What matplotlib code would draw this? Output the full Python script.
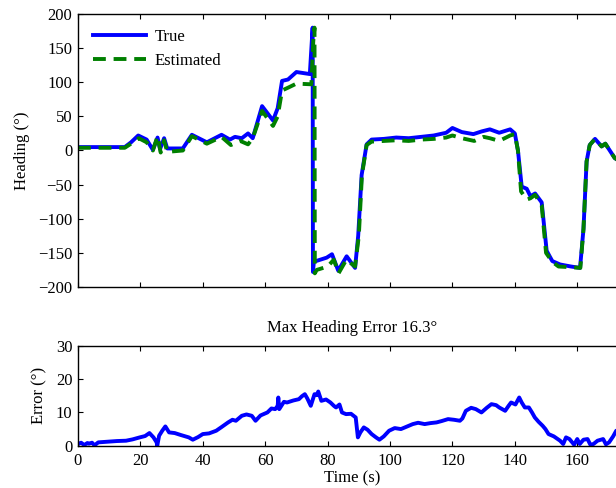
import matplotlib
matplotlib.use('Agg')
import matplotlib.pyplot as plt

plt.rcParams.update({
    'font.family': ['Liberation Serif', 'DejaVu Serif'],
    'font.size': 12,
    'xtick.direction': 'in', 'ytick.direction': 'in',
    'xtick.top': True, 'ytick.right': True,
    'xtick.major.size': 3.6, 'ytick.major.size': 3.6,
    'xtick.major.pad': 5.5, 'ytick.major.pad': 4,
    'axes.linewidth': 1.0,
})

# ── 데이터
t_true = [0, 15, 17, 19.3, 22, 24, 25.5, 26.3, 27.6, 28.6, 33.6, 36.5, 41.3, 46,
          48.7, 50.3, 52.5, 54.5, 56, 59, 62.5, 64, 65.4, 67.3, 70, 74.3, 74.8,
          75.2, 75.3, 75.6, 79.7, 81.4, 83.4, 86.1, 88.8, 89.8, 90.9, 92.5, 94.1,
          98, 102, 106, 110, 114, 118, 120, 123, 126.7, 129.4, 132, 135, 138.5,
          140, 141, 142.2, 143.8, 145, 146.5, 148.6, 150.2, 152, 154.5, 158, 160.9,
          162, 163, 164, 165.7, 167.8, 169, 172, 175]
h_true = [5, 5, 12, 22, 16, 1, 19, 2, 18, 3, 3, 23, 12, 23,
          16, 20, 18, 25, 18, 65, 44, 62, 102, 104, 115, 112, 150,
          180, -178, -163, -157, -152, -176, -155, -172, -125, -36, 9, 16,
          17, 19, 18, 20, 22, 26, 33, 27, 24, 28, 31, 26, 31,
          25, 0, -53, -56, -67, -63, -76, -147, -162, -167, -170, -172,
          -115, -16, 8, 17, 6, 10, -11, -20]

t_est = [0, 15, 17, 19.5, 22, 24, 25.5, 26.5, 27.6, 28.6, 33.6, 36.5, 41.3, 46,
         49, 52, 54.5, 56, 59, 62.5, 64, 65.4, 67.3, 70, 74.8, 75.4, 75.8,
         75.9, 76.5, 80, 82, 83.5, 86, 88.8, 90, 91, 92.5, 94.1, 98, 102, 106,
         110, 114, 118, 120, 123, 127, 130, 132, 135, 138.5, 140, 141, 142,
         143.8, 145, 146.5, 148.6, 150, 152, 154, 158, 161, 162, 163, 164,
         165.7, 167.8, 169, 172, 175]
h_est = [4, 4, 10, 18, 12, 0, 21, -3, 15, -2, 0, 21, 10, 20,
         8, 14, 9, 18, 58, 36, 50, 88, 92, 98, 97, 160, 180,
         -180, -175, -170, -160, -180, -160, -170, -125, -36, 8, 13, 14, 15, 14,
         16, 17, 19, 22, 18, 14, 20, 18, 14, 22, 24, 0, -60,
         -72, -70, -65, -80, -150, -163, -170, -171, -172, -115, -16, 8,
         17, 6, 10, -11, -20]

t_err = [0, 1, 2, 3, 3.5, 4.5, 5.3, 6.5, 8, 10, 12.5, 15.4, 17.5, 19.8, 21.5,
         22.9, 24.2, 25.2, 25.4, 25.7, 26, 27, 28, 29.2, 31, 33, 35.5, 36.8, 38.5,
         40, 42, 44.3, 46, 48.1, 49.5, 50.6, 52.5, 54, 55.7, 56.9, 58.5, 60.7,
         62, 63.2, 64.0, 64.2, 64.5, 66, 67, 69, 70.8, 71.8, 72.7, 73.5, 74.6,
         75.8, 76.5, 77, 78, 79.5, 80.9, 82, 82.7, 83.8, 84.6, 85.9, 87.5, 89,
         89.7, 90.5, 91.6, 92.8, 94.1, 95.5, 96.6, 98, 99.7, 101.5, 103.5, 105.5,
         107.3, 109, 111.1, 113, 114.9, 116.5, 118.6, 120.5, 122.4, 123.2, 124.3,
         126, 127.5, 129.3, 131, 132.5, 134, 135, 136.9, 138, 138.8, 140.2, 141.4,
         142.2, 143.2, 144.5, 145.5, 146.4, 147.6, 148.9, 149.8, 150.8, 152.5,
         154.5, 155.5, 156.4, 157.5, 159, 160, 160.8, 162, 163.3, 164.2, 165.2,
         166.5, 168.3, 169.2, 170.2, 171.5, 172.5, 175]
e_err = [0.5, 0.9, 0.2, 0.8, 0.6, 0.9, 0.1, 1.0, 1.1, 1.2, 1.4, 1.5, 1.9, 2.5, 2.9,
         3.8, 2.5, 1.0, 0.0, 1.5, 3.0, 4.5, 5.8, 4.0, 3.8, 3.2, 2.5, 1.8, 2.6,
         3.5, 3.7, 4.5, 5.6, 7.0, 7.8, 7.5, 9.0, 9.4, 9.0, 7.5, 9.1, 10.0,
         11.2, 11.0, 12.0, 14.5, 11.0, 13.2, 13.0, 13.6, 14.0, 14.9, 15.5, 14.2, 12.0,
         15.5, 15.2, 16.3, 13.5, 13.9, 13.0, 12.0, 11.5, 12.4, 10.0, 9.5, 9.6, 8.5,
         2.5, 4.0, 5.5, 4.8, 3.5, 2.5, 1.8, 2.8, 4.5, 5.3, 5.0, 5.8,
         6.5, 6.9, 6.5, 6.8, 7.0, 7.4, 8.0, 7.8, 7.5, 8.2, 10.5,
         11.4, 11.0, 10.0, 11.4, 12.5, 12.2, 11.5, 10.5, 12.0, 13.0, 12.4, 14.5,
         13.0, 11.5, 11.5, 10.0, 8.5, 7.2, 6.0, 5.0, 3.5, 2.8,
         1.5, 0.5, 2.5, 2.0, 0.3, 2.0, 0.5, 1.8, 2.0, 0.3, 0.5,
         1.5, 2.0, 0.4, 1.0, 2.8, 4.5, 5.0]

x_ticks = list(range(0, 161, 20))
h_ticks = list(range(-200, 201, 50))
e_ticks = [0, 10, 20, 30]

BLUE = (0, 0, 1)
GREEN = (0, 0.5, 0)

fig = plt.figure(figsize=(6.16, 4.88), dpi=100)
ax1 = fig.add_axes([0.1266, 0.4119, 0.889, 0.5594])
ax2 = fig.add_axes([0.1266, 0.0867, 0.889, 0.2043])

ax1.plot(t_true, h_true, color=BLUE, lw=2.8, label='True')
ax1.plot(t_est, h_est, color=GREEN, lw=2.8, ls=(0, (3.3, 2.0)), label='Estimated')
ax1.set_xlim(0, 175.5)
ax1.set_ylim(-200, 200)
ax1.set_xticks(x_ticks)
ax1.set_xticklabels([])
ax1.set_yticks(h_ticks)
ax1.set_ylabel('Heading (°)', labelpad=6)
ax1.legend(loc='upper left', frameon=False, handlelength=3.2,
           borderaxespad=0.5, labelspacing=0.45, handletextpad=0.5,
           bbox_to_anchor=(0.0, 1.0))

ax2.plot(t_err, e_err, color=BLUE, lw=2.8)
ax2.set_xlim(0, 175.5)
ax2.set_ylim(0, 30)
ax2.set_xticks(x_ticks)
ax2.set_yticks(e_ticks)
ax2.set_ylabel('Error (°)', labelpad=6)
ax2.set_xlabel('Time (s)', labelpad=0.5)
ax2.set_title('Max Heading Error 16.3°', fontsize=12, pad=10)

fig.savefig('out.png', dpi=100)
